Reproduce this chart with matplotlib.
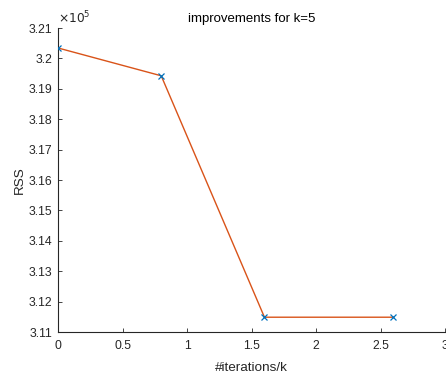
import numpy as np
import matplotlib
matplotlib.use("Agg")
import matplotlib.pyplot as plt
from matplotlib.ticker import FuncFormatter

# Values
iterations = [0, 0.8, 1.6, 2.6]
rss = [320345, 319430, 311490, 311490]
x_ticks = [0, 0.5, 1, 1.5, 2, 2.5, 3]
y_ticks = [3.11e5, 3.12e5, 3.13e5, 3.14e5, 3.15e5, 3.16e5, 3.17e5, 3.18e5, 3.19e5, 3.2e5, 3.21e5]

plt.rcParams['font.family'] = ['Liberation Sans', 'DejaVu Sans']

fig = plt.figure(figsize=(4.46, 3.74), dpi=100)
ax = fig.add_axes([0.130, 0.112, 0.868, 0.813])

axis_col = '#262626'
# line first, markers on top
ax.plot(iterations, rss, color='#D95319', lw=1.0, zorder=2)
ax.plot(iterations, rss, ls='none', marker='x', ms=5, mew=0.9, color='#0072BD', zorder=3)

ax.set_xlim(0, 3)
ax.set_ylim(3.11e5, 3.21e5)
ax.set_xticks(x_ticks)
ax.set_yticks(y_ticks)
ax.xaxis.set_major_formatter(FuncFormatter(lambda v, p: '%g' % v))
ax.yaxis.set_major_formatter(FuncFormatter(lambda v, p: '%g' % round(v / 1e5, 4)))

for side in ['top', 'right']:
    ax.spines[side].set_visible(False)
for side in ['left', 'bottom']:
    ax.spines[side].set_color(axis_col)
    ax.spines[side].set_linewidth(0.8)
ax.tick_params(direction='in', length=3, width=0.6, colors=axis_col, labelsize=8.8)
ax.tick_params(axis='x', pad=6)
ax.tick_params(axis='y', pad=4)

# exponent label, MATLAB style
ax.annotate(r'$\times10^{5}$', xy=(0, 1), xycoords='axes fraction', xytext=(0, 1),
            textcoords='offset points', fontsize=8.8, color=axis_col, ha='left', va='bottom')
ax.set_title('improvements for k=5', fontsize=9.5, color='black', pad=4)
ax.set_xlabel('#iterations/k', fontsize=9.7, color=axis_col, labelpad=7)
ax.set_ylabel('RSS', fontsize=9.7, color=axis_col, labelpad=2)

fig.savefig('out.png', dpi=100)
